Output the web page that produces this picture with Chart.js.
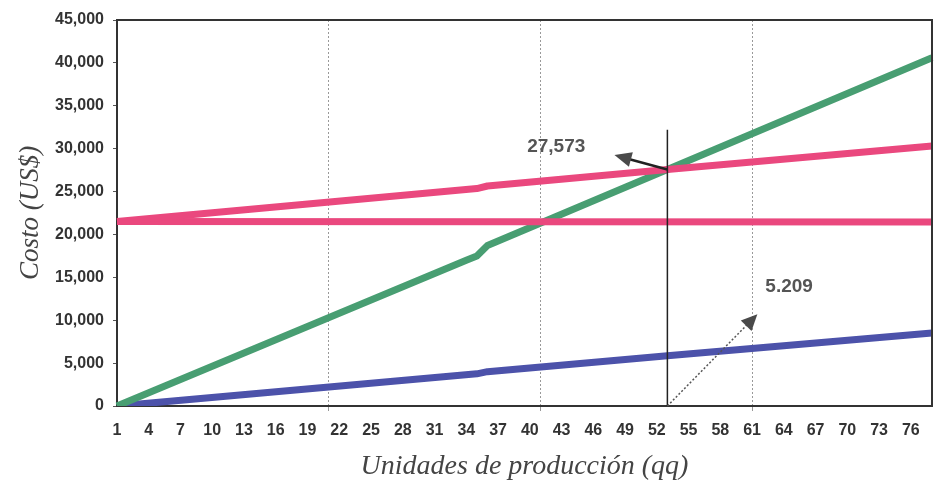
<!DOCTYPE html>
<html>
<head>
<meta charset="utf-8">
<script src="https://cdn.jsdelivr.net/npm/chart.js@4"></script>
<style>
  html, body { margin: 0; padding: 0; background: #fff; }
  #wrap { width: 935px; height: 484px; }
</style>
</head>
<body>
<div id="wrap"><canvas id="costChart" width="935" height="484"></canvas></div>
<script>
// categorias del eje x (unidades de producción)
const xLabels = [1,2,3,4,5,6,7,8,9,10,11,12,13,14,15,16,17,18,19,20,21,22,23,24,25,26,27,28,29,30,31,32,33,34,35,36,37,38,39,40,41,42,43,44,45,46,47,48,49,50,51,52,53,54,55,56,57,58,59,60,61,62,63,64,65,66,67,68,69,70,71,72,73,74,75,76,77,78];
const tickLabels = [1,4,7,10,13,16,19,22,25,28,31,34,37,40,43,46,49,52,55,58,61,64,67,70,73,76];
const gridCats = [21, 41, 61];

// ingresos (verde)
const greenX = [1, 34, 35, 36, 53, 78];
const greenY = [0, 17000, 17500, 18700, 27573, 40600];
// costo total (rosa)
const totalX = [1, 35, 36, 53, 78];
const totalY = [21500, 25350, 25650, 27573, 30300];
// costo fijo (rosa)
const fixedX = [1, 78];
const fixedY = [21500, 21450];
// costo variable (azul)
const varX = [1, 35, 36, 53, 78];
const varY = [0, 3750, 4000, 5850, 8500];

// anotaciones (en unidades del grafico)
const breakEvenCat = 53;
const breakEvenValue = 27573;
const breakEvenText = "27,573";
const markerTop = 32200;
const arrow1Tip = [48, 29250];
const label1Pos = [42.5, 30200];
const arrow2Tip = [61.5, 10700];
const label2Pos = [64.5, 13900];
const label2Text = "5.209";

function toPoints(xs, ys) {
  return xs.map((x, i) => ({ x: x, y: ys[i] }));
}

const lineStyle = {
  borderWidth: 7,
  pointRadius: 0,
  tension: 0,
  fill: false,
  borderCapStyle: "butt",
  borderJoinStyle: "round",
};

function arrowHead(ctx, x0, y0, x1, y1, len, wid) {
  const a = Math.atan2(y1 - y0, x1 - x0);
  ctx.beginPath();
  ctx.moveTo(x1, y1);
  ctx.lineTo(x1 - len * Math.cos(a) + wid / 2 * Math.sin(a), y1 - len * Math.sin(a) - wid / 2 * Math.cos(a));
  ctx.lineTo(x1 - len * Math.cos(a) - wid / 2 * Math.sin(a), y1 - len * Math.sin(a) + wid / 2 * Math.cos(a));
  ctx.closePath();
  ctx.fill();
}

// marco y anotaciones
const annotations = {
  id: "annotations",
  afterDatasetsDraw(chart) {
    const ctx = chart.ctx;
    const xs = chart.scales.x;
    const ys = chart.scales.y;
    const area = chart.chartArea;
    const px = (c) => xs.getPixelForValue(c - 1);
    const py = (v) => ys.getPixelForValue(v);

    ctx.save();
    // borde superior y derecho
    ctx.strokeStyle = "#333";
    ctx.lineWidth = 2;
    ctx.beginPath();
    ctx.moveTo(area.left, area.top);
    ctx.lineTo(area.right, area.top);
    ctx.lineTo(area.right, area.bottom);
    ctx.stroke();

    // linea vertical del punto de equilibrio
    ctx.strokeStyle = "#222";
    ctx.lineWidth = 1.5;
    ctx.beginPath();
    ctx.moveTo(px(breakEvenCat), py(0));
    ctx.lineTo(px(breakEvenCat), py(markerTop));
    ctx.stroke();

    // flecha 1
    const ax0 = px(breakEvenCat), ay0 = py(breakEvenValue);
    const ax1 = px(arrow1Tip[0]), ay1 = py(arrow1Tip[1]);
    ctx.strokeStyle = "#222";
    ctx.fillStyle = "#4a4a4a";
    ctx.lineWidth = 2.5;
    ctx.beginPath();
    ctx.moveTo(ax0, ay0);
    ctx.lineTo(ax1 + (ax0 - ax1) * 0.25, ay1 + (ay0 - ay1) * 0.25);
    ctx.stroke();
    arrowHead(ctx, ax0, ay0, ax1, ay1, 17, 15);

    // flecha 2 (punteada)
    const bx0 = px(breakEvenCat), by0 = py(0);
    const bx1 = px(arrow2Tip[0]), by1 = py(arrow2Tip[1]);
    ctx.strokeStyle = "#555";
    ctx.lineWidth = 1.5;
    ctx.setLineDash([2, 2]);
    ctx.beginPath();
    ctx.moveTo(bx0, by0);
    ctx.lineTo(bx1 - (bx1 - bx0) * 0.1, by1 - (by1 - by0) * 0.1);
    ctx.stroke();
    ctx.setLineDash([]);
    arrowHead(ctx, bx0, by0, bx1, by1, 16, 15);

    // textos
    ctx.fillStyle = "#555";
    ctx.font = "bold 19px 'Liberation Sans', Arial, sans-serif";
    ctx.textAlign = "center";
    ctx.textBaseline = "middle";
    ctx.fillText(breakEvenText, px(label1Pos[0]), py(label1Pos[1]));
    ctx.fillText(label2Text, px(label2Pos[0]), py(label2Pos[1]));
    ctx.restore();
  },
};

new Chart(document.getElementById("costChart"), {
  type: "line",
  data: {
    labels: xLabels,
    datasets: [
      { ...lineStyle, data: toPoints(totalX, totalY), borderColor: "rgb(234, 72, 126)" },
      { ...lineStyle, data: toPoints(fixedX, fixedY), borderColor: "rgb(234, 72, 126)" },
      { ...lineStyle, data: toPoints(greenX, greenY), borderColor: "rgb(72, 158, 114)" },
      { ...lineStyle, data: toPoints(varX, varY), borderColor: "rgb(76, 82, 170)" },
    ],
  },
  options: {
    responsive: false,
    animation: false,
    events: [],
    layout: { padding: { left: 0, right: 3, top: 20, bottom: 0 } },
    plugins: {
      legend: { display: false },
      tooltip: { enabled: false },
    },
    scales: {
      x: {
        type: "category",
        offset: false,
        border: { display: true, color: "#333", width: 2, dash: [2, 2] },
        grid: {
          color: (c) => (gridCats.includes(xLabels[c.index]) ? "#999" : "rgba(0,0,0,0)"),
          lineWidth: 1,
          drawTicks: true,
          tickLength: 5,
        },
        ticks: {
          autoSkip: false,
          maxRotation: 0,
          minRotation: 0,
          padding: 10,
          color: "#333",
          font: { family: "'Liberation Sans', Arial, sans-serif", size: 16, weight: "bold" },
          callback: (v, i) => (tickLabels.includes(xLabels[i]) ? String(xLabels[i]) : ""),
        },
        title: {
          display: true,
          text: "Unidades de producción (qq)",
          color: "#444",
          font: { family: "'Liberation Serif', 'DejaVu Serif', serif", size: 28, style: "italic" },
          padding: { top: 0, bottom: 1 },
        },
        afterFit: (scale) => {
          scale.height = 78;
          scale.paddingRight = 0;
        },
      },
      y: {
        min: 0,
        max: 45000,
        border: { display: true, color: "#333", width: 2 },
        grid: { display: true, color: "rgba(0,0,0,0)", drawTicks: true, tickLength: 4, tickColor: "#555" },
        ticks: {
          stepSize: 5000,
          padding: 9,
          color: "#333",
          font: { family: "'Liberation Sans', Arial, sans-serif", size: 16, weight: "bold" },
          callback: (v) => v.toLocaleString("en-US"),
        },
        title: {
          display: true,
          text: "Costo (US$)",
          color: "#444",
          font: { family: "'Liberation Serif', 'DejaVu Serif', serif", size: 27, style: "italic" },
          padding: { top: 15, bottom: 0 },
        },
        afterFit: (scale) => { scale.width = 117; },
      },
    },
  },
  plugins: [annotations],
});
</script>
</body>
</html>
